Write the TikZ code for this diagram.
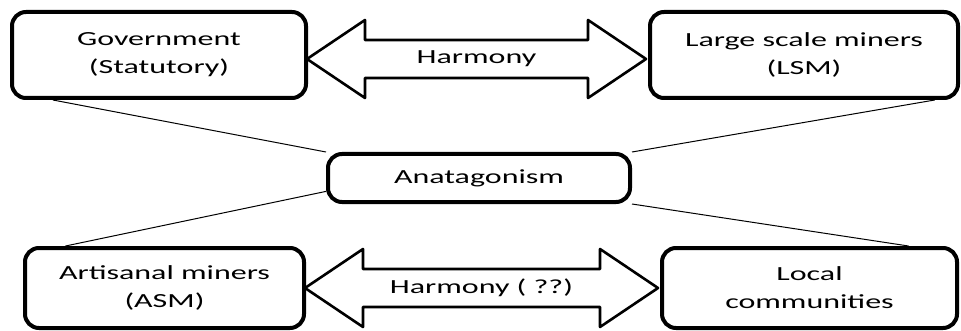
\documentclass[tikz,border=0pt]{standalone}
\usepackage{fontspec}
\newfontfamily\boxfont[FakeStretch=1.6]{Carlito}
\usetikzlibrary{calc}

\begin{document}
\begin{tikzpicture}[x=0.5pt,y=-0.5pt, line join=round, font=\boxfont\fontsize{10}{14}\selectfont,
	party/.style={draw, line width=2pt, rounded corners=7pt, align=center},
	tie/.style={line width=0.5pt},
	bigarrow/.style={draw, line width=1.3pt, fill=white}]
	\useasboundingbox (0,0) rectangle (961,331);
	\def\hl{58} \def\hh{39} \def\sh{19} % head length, half head, half shaft
	\node[party, minimum width=147pt, minimum height=43pt] (gov) at (159,55) {Government\\(Statutory)};
	\node[party, minimum width=154pt, minimum height=43pt] (lsm) at (804,55) {Large scale miners\\(LSM)};
	\node[party, minimum width=151pt, minimum height=24pt] (anat) at (479,178) {Anatagonism};
	\node[party, minimum width=139.5pt, minimum height=40pt] (asm) at (164.5,288) {Artisanal miners\\(ASM)};
	\node[party, minimum width=147.5pt, minimum height=40pt] (loc) at (809.5,288) {Local\\communities};
	% lines to the centre
	\draw[tie] (gov.203.5) -- (anat.north west);
	\draw[tie] (lsm.341.6) -- (anat.north east);
	\draw[tie] (asm.157.6) -- (anat.185);
	\draw[tie] (loc.23.2) -- (anat.south east);
	% block arrows
	\foreach \a/\b/\d/\t in {gov/lsm/4/Harmony, asm/loc/0/{Harmony ( ??)}}{
		\coordinate (\a-l) at ($(\a.east)+(-1,\d)$);
		\coordinate (\b-r) at ($(\b.west)+(-2,\d)$);
		\draw[bigarrow] (\a-l) -- ++(\hl,-\hh) -- ++(0,\hh-\sh) -- ($(\b-r)+(-\hl,-\sh)$) -- ++(0,\sh-\hh)
			-- (\b-r) -- ++(-\hl,\hh) -- ++(0,\sh-\hh) -- ($(\a-l)+(\hl,\sh)$) -- ++(0,\hh-\sh) -- cycle;
		\node (\a-\b) at ($(\a-l)!0.5!(\b-r)$) {\t};
	}
\end{tikzpicture}
\end{document}
